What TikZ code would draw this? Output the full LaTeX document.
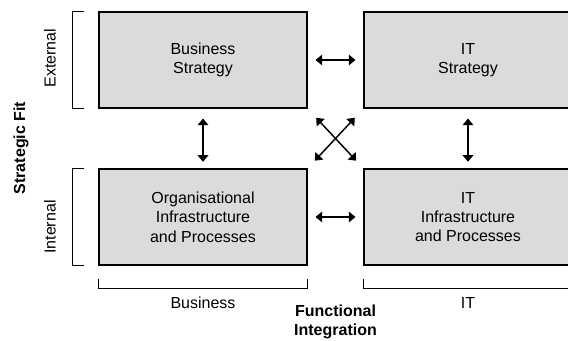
\documentclass[tikz,border=0pt]{standalone}
\usepackage{fontspec}
\setmainfont{Liberation Sans}
\usepackage{tikz}
\usetikzlibrary{arrows.meta}
\tikzset{
    box/.style={draw, line width=0.8pt, fill=black!14, minimum width=156pt, minimum height=72pt,
        align=center, font=\fontsize{12}{14.5}\selectfont},
    link/.style={{Triangle[length=5pt,width=8pt]}-{Triangle[length=5pt,width=8pt]}, line width=1.1pt},
    brace/.style={line width=0.8pt},
    lbl/.style={font=\fontsize{12}{14.5}\selectfont},
    head/.style={font=\bfseries\fontsize{12}{14.5}\selectfont, align=center},
}

\begin{document}
\begin{tikzpicture}[x=0.75pt, y=-0.75pt]
\useasboundingbox (0,0) rectangle (568,340);
\node[box] (bs) at (203,60) {Business\\Strategy};
\node[box] (its) at (468,60) {IT\\Strategy};
\node[box] (os) at (203,217) {Organisational\\Infrastructure\\and Processes};
\node[box] (ii) at (468,217) {IT\\Infrastructure\\and Processes};
\draw[link, shorten <=6pt, shorten >=6pt] (bs) -- (its);
\draw[link, shorten <=6pt, shorten >=6pt] (os) -- (ii);
\draw[link, shorten <=7.5pt, shorten >=5pt] (bs) -- (os);
\draw[link, shorten <=7.5pt, shorten >=5pt] (its) -- (ii);
\draw[link, shorten <=9.5pt, shorten >=8pt] (bs.south east) -- (ii.north west);
\draw[link, shorten <=8pt, shorten >=9.5pt] (os.north east) -- (its.south west);
\draw[brace] ([xshift=-10.5pt]bs.north west) -- ++(-9pt,0) |- ([xshift=-10.5pt]bs.south west);
\draw[brace] ([xshift=-10.5pt]os.north west) -- ++(-9pt,0) |- ([xshift=-10.5pt]os.south west);
\draw[brace] ([yshift=-9.75pt]os.south west) -- ++(0,-7.5pt) -| ([yshift=-9.75pt]os.south east);
\draw[brace] ([yshift=-9.75pt]ii.south west) -- ++(0,-7.5pt) -| ([yshift=-9.75pt]ii.south east);
\node[lbl, rotate=90] (ext) at (50,58) {External};
\node[lbl, rotate=90] (int) at (50,227) {Internal};
\node[head, rotate=90] (fit) at (21,148) {Strategic Fit};
\node[lbl] (bus) at (203,303) {Business};
\node[lbl] (it) at (468,303) {IT};
\node[head] (fi) at (335.5,322) {Functional\\Integration};
\end{tikzpicture}
\end{document}
